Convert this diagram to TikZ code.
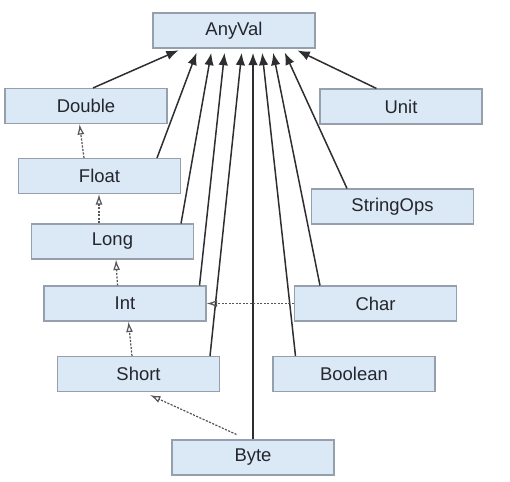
\documentclass[tikz,border=0pt]{standalone}
\usepackage{fontspec}
\setmainfont{Liberation Sans}
\usepackage{tikz}
\usetikzlibrary{positioning,arrows.meta,calc}
\definecolor{boxfill}{RGB}{219,232,245}
\definecolor{boxline}{RGB}{150,160,172}
\definecolor{inkgray}{RGB}{45,45,50}
\definecolor{txtgray}{RGB}{35,38,46}

\begin{document}
\begin{tikzpicture}[x=0.02cm,y=-0.02cm,
    tbox/.style={draw=boxline,fill=boxfill,line width=0.6pt,minimum width=3.24cm,minimum height=0.7cm,
                 inner sep=0pt,text=txtgray,font=\fontsize{10.5}{12}\selectfont},
    sup/.style={draw=inkgray,line width=0.85pt,-{Latex[length=7pt,width=5.4pt]},shorten >=2.5pt},
    conv/.style={draw=inkgray!80,line width=0.7pt,dash pattern=on 1.2pt off 0.8pt,
                 -{Latex[open,length=6pt,width=4pt]}}]
    \useasboundingbox (0,0) rectangle (510,481);
    \node[tbox] (anyval) at (234,30.5) {AnyVal};
    \node[tbox] (dbl) at (86,106) {Double};
    \node[tbox] (flt) at (99.5,176) {Float};
    \node[tbox] (lng) at (112.5,241.5) {Long};
    \node[tbox] (int) at (125,303.5) {Int};
    \node[tbox] (shrt) at (138.5,374) {Short};
    \node[tbox] (byte) at (253,457.5) {Byte};
    \node[tbox] (char) at (375.5,303.5) {Char};
    \node[tbox] (bool) at (354,374) {Boolean};
    \node[tbox] (unit) at (401,106.5) {Unit};
    \node[tbox] (strops) at (392.5,206.5) {StringOps};
    % subtypes of AnyVal
    \draw[sup] ($(dbl.north)+(7,0)$) -- ($(anyval.south west)!0.185!(anyval.south east)$);
    \draw[sup] ($(flt.north east)+(-24,0)$) -- ($(anyval.south west)!0.28!(anyval.south east)$);
    \draw[sup] ($(lng.north east)+(-13,0)$) -- ($(anyval.south west)!0.365!(anyval.south east)$);
    \draw[sup] ($(int.north east)+(-7,0)$) -- ($(anyval.south west)!0.445!(anyval.south east)$);
    \draw[sup] ($(shrt.north east)+(-10,0)$) -- ($(anyval.south west)!0.55!(anyval.south east)$);
    \draw[sup] (byte.north) -- (byte.north |- anyval.south);
    \draw[sup] ($(bool.north west)+(23,0)$) -- ($(anyval.south west)!0.67!(anyval.south east)$);
    \draw[sup] ($(char.north west)+(26,0)$) -- ($(anyval.south west)!0.735!(anyval.south east)$);
    \draw[sup] ($(strops.north west)+(36,0)$) -- ($(anyval.south west)!0.8!(anyval.south east)$);
    \draw[sup] ($(unit.north west)+(57,0)$) -- ($(anyval.south west)!0.865!(anyval.south east)$);
    % implicit conversions
    \draw[conv] ($(flt.north west)+(66,0)$) -- ($(dbl.south west)+(75,0)$);
    \draw[conv] ($(lng.north west)+(68,0)$) -- ($(flt.south west)+(81,0)$);
    \draw[conv] ($(int.north west)+(74,0)$) -- ($(lng.south west)+(85,0)$);
    \draw[conv] ($(shrt.north west)+(75,0)$) -- ($(int.south west)+(85,0)$);
    \draw[conv] ($(byte.north west)+(65,-5)$) -- ($(shrt.south west)+(93,3)$);
    \draw[conv] (char.west) -- (int.east);
\end{tikzpicture}
\end{document}
